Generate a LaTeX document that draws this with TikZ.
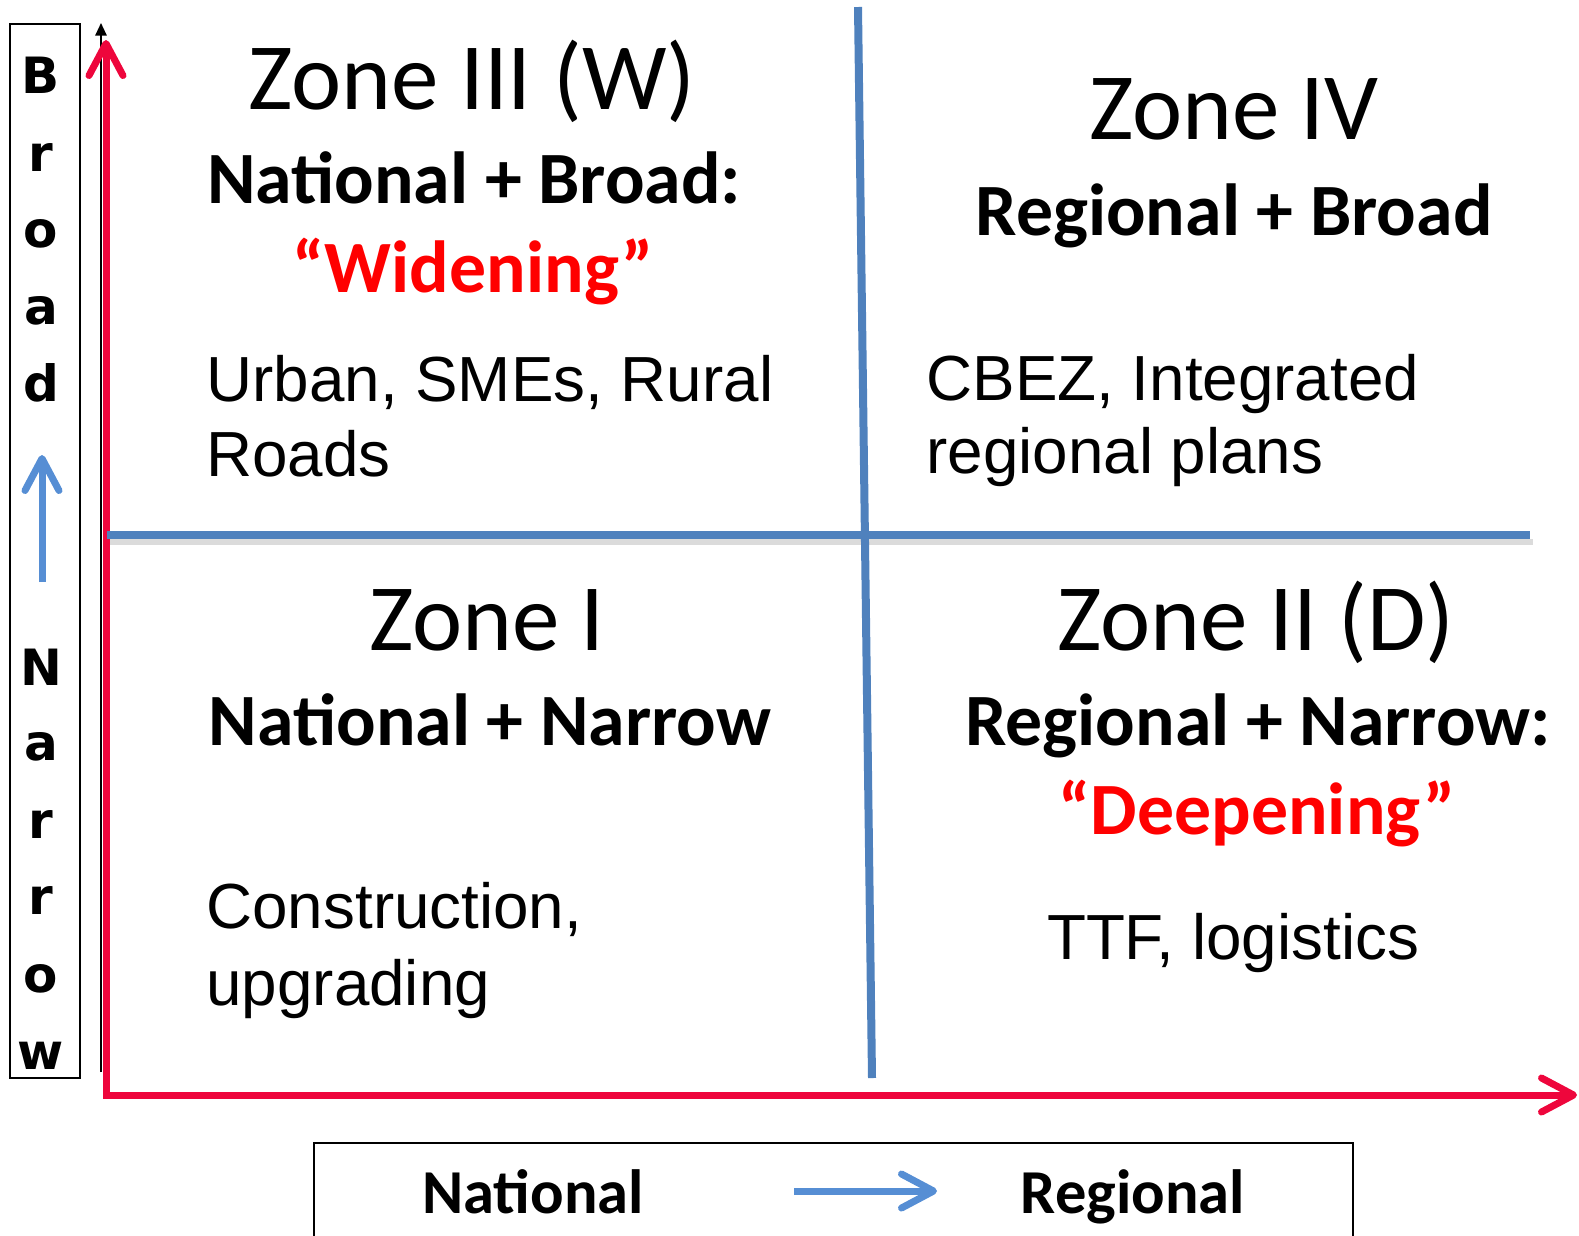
\documentclass[tikz,border=0pt]{standalone}
\usepackage{fontspec}
\usepackage{xcolor}
\usepackage{tikz}
\usetikzlibrary{arrows.meta}
\setmainfont{Carlito}
\newfontfamily\arialfont{Liberation Sans}
\newfontfamily\letterfont{DejaVu Sans}
\definecolor{axisred}{RGB}{238,6,60}
\definecolor{textred}{RGB}{255,0,0}
\definecolor{gridblue}{RGB}{79,129,189}
\definecolor{arrowblue}{RGB}{86,142,212}

\begin{document}
\begin{tikzpicture}[x=0.4pt,y=-0.4pt,>=latex]
\tikzstyle{zone}=[anchor=base,inner sep=0,font=\fontsize{38}{44}\selectfont]
\tikzstyle{kind}=[anchor=base,inner sep=0,font=\fontsize{29.5}{34}\selectfont\bfseries]
\tikzstyle{note}=[anchor=base west,inner sep=0,font=\arialfont\fontsize{25.5}{30}\selectfont]
\tikzstyle{letter}=[anchor=base,inner sep=0,font=\letterfont\bfseries\fontsize{20}{24}\selectfont]
\tikzstyle{barb}=[-{Straight Barb[round,length=12.8pt,width=13.6pt]},line width=2.8pt]
\useasboundingbox (0,0) rectangle (1579,1235);
% axes
\coordinate (O) at (106,1095);
\coordinate (ytop) at (106,40);
\coordinate (xend) at (1577,1095);
\coordinate (blk0) at (101,1072);
\coordinate (blk1) at (101,23);
\draw[line width=0.7pt,-{Triangle[length=5pt,width=4.5pt]}] (blk0) -- (blk1);
\draw[barb,axisred,{Straight Barb[round,length=12.8pt,width=13.6pt]}-{Straight Barb[round,length=12.8pt,width=13.6pt]}] (ytop) -- (O) -- (xend);
% quadrant lines
\coordinate (vtop) at (858,7);
\coordinate (vbot) at (872,1078);
\coordinate (hl) at (107,535);
\coordinate (hr) at (1530,535);
\draw[black!14,line width=2.4pt] ([shift={(3,7)}]hl) -- ([shift={(3,7)}]hr);
\draw[gridblue,line width=3.2pt] (hl) -- (hr);
\draw[gridblue,line width=3.2pt] (vtop) -- (vbot);
% left label box
\draw[line width=0.7pt] (10,24) rectangle (80,1078);
\foreach \l/\y [count=\i] in {B/93,r/171,o/247,a/324,d/401,N/685,a/760,r/838,r/914,o/992,w/1069}
  \node[letter] (v\i) at (41,\y) {\l};
\coordinate (ba0) at (42,582);
\coordinate (ba1) at (42,455);
\draw[barb,arrowblue] (ba0) -- (ba1);
% zones
\node[zone] (z3) at (472,109) {Zone III (W)};
\node[kind] (z3a) at (474,203) {National + Broad:};
\node[kind,textred] (z3b) at (473,292) {``Widening''};
\node[note] (z3c) at (206,401) {Urban, SMEs, Rural};
\node[note] (z3d) at (206,476) {Roads};
\node[zone] (z4) at (1234,139) {Zone IV};
\node[kind] (z4a) at (1234,235) {Regional + Broad};
\node[note] (z4c) at (926,400) {CBEZ, Integrated};
\node[note] (z4d) at (926,473) {regional plans};
\node[zone] (z1) at (487,650) {Zone I};
\node[kind] (z1a) at (490,745) {National + Narrow};
\node[note] (z1c) at (206,928) {Construction,};
\node[note] (z1d) at (206,1005) {upgrading};
\node[zone] (z2) at (1256,650) {Zone II (D)};
\node[kind] (z2a) at (1258,745) {Regional + Narrow:};
\node[kind,textred] (z2b) at (1257,834) {``Deepening''};
\node[note,anchor=base] (z2c) at (1233,959) {TTF, logistics};
% bottom box
\draw[line width=0.55pt] (314,1240) -- (314,1143) -- (1353,1143) -- (1353,1240);
\node[kind,font=\fontsize{25}{30}\selectfont\bfseries] (nat) at (533,1213) {National};
\node[kind,font=\fontsize{25}{30}\selectfont\bfseries] (reg) at (1133,1213) {Regional};
\coordinate (na0) at (794,1191);
\coordinate (na1) at (937,1191);
\draw[barb,arrowblue] (na0) -- (na1);
\end{tikzpicture}
\end{document}
